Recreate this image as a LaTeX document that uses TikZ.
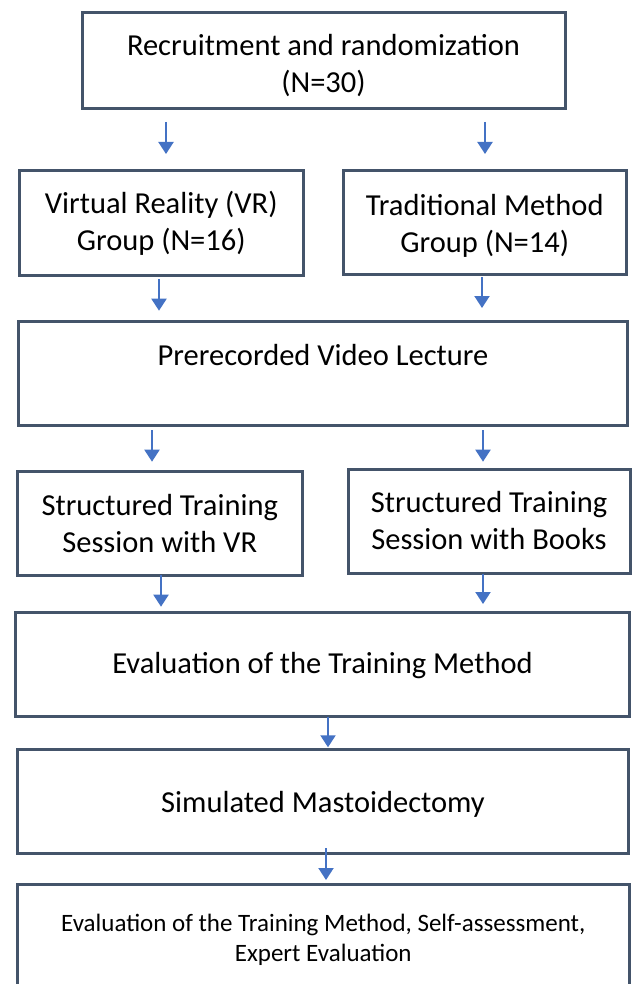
\documentclass[tikz,border=0pt]{standalone}
\usepackage{fontspec}
\setmainfont{Carlito}
\usetikzlibrary{arrows.meta}
\definecolor{boxline}{HTML}{44546A}
\definecolor{arrowblue}{HTML}{4472C4}
\begin{document}
\begin{tikzpicture}[x=1pt,y=-1pt,
  box/.style={draw=boxline, line width=3pt, fill=white, outer sep=0pt,
    inner sep=0pt},
  txt/.style={inner sep=0pt, align=center, font=\fontsize{30.5}{37}\selectfont},
  smalltxt/.style={txt, font=\fontsize{25}{30}\selectfont},
  arr/.style={draw=arrowblue, line width=2pt,
    -{Triangle[width=15pt,length=12pt]}}]
  % page frame
  \useasboundingbox (0,0) rectangle (632,984);
  \clip (0,0) rectangle (632,984);
  \fill[white] (0,0) rectangle (632,984);

  % flow boxes
  \node[box, minimum width=483pt, minimum height=96pt] (recruit) at (323.5,61) {};
  \node[box, minimum width=283.5pt, minimum height=104pt] (vr) at (161.25,223) {};
  \node[box, minimum width=283.5pt, minimum height=103.5pt] (trad) at (484.75,222.75) {};
  \node[box, minimum width=609pt, minimum height=104.5pt] (video) at (323,373.25) {};
  \node[box, minimum width=284.5pt, minimum height=104pt] (svr) at (159.75,523) {};
  \node[box, minimum width=282pt, minimum height=104.5pt] (books) at (489,521.25) {};
  \node[box, minimum width=614pt, minimum height=104pt] (evalm) at (322.5,664) {};
  \node[box, minimum width=611pt, minimum height=104pt] (mast) at (323,801) {};
  \node[box, minimum width=611.5pt, minimum height=106pt] (final) at (323.25,937) {};

  % box texts
  \node[txt] (recruit-text) at (323.5,65.5) {Recruitment and randomization\\(N=30)};
  \node[txt] (vr-text) at (161.25,223) {Virtual Reality (VR)\\Group (N=16)};
  \node[txt] (trad-text) at (484.75,226) {Traditional Method\\Group (N=14)};
  \node[txt] (video-text) at (323,355) {Prerecorded Video Lecture};
  \node[txt] (svr-text) at (159.75,524) {Structured Training\\Session with VR};
  \node[txt] (books-text) at (489,521) {Structured Training\\Session with Books};
  \node[txt] (evalm-text) at (322.5,666) {Evaluation of the Training Method};
  \node[txt] (mast-text) at (323,804.5) {Simulated Mastoidectomy};
  \node[smalltxt] (final-text) at (323.25,940)
    {Evaluation of the Training Method, Self-assessment,\\Expert Evaluation};

  % arrow columns
  \coordinate (a1l) at (166,0);
  \coordinate (a1r) at (485,0);
  \coordinate (a2l) at (159,0);
  \coordinate (a2r) at (482,0);
  \coordinate (a3l) at (152,0);
  \coordinate (a3r) at (483,0);
  \coordinate (a4l) at (161,0);
  \coordinate (a4r) at (483,0);
  \coordinate (a5) at (328,0);
  \coordinate (a6) at (326,0);

  % connectors
  \draw[arr, shorten <=13pt, shorten >=17pt] (recruit.south -| a1l) -- (vr.north -| a1l);
  \draw[arr, shorten <=13pt, shorten >=17pt] (recruit.south -| a1r) -- (trad.north -| a1r);
  \draw[arr, shorten <=4pt, shorten >=10.3pt] (vr.south -| a2l) -- (video.north -| a2l);
  \draw[arr, shorten <=2.5pt, shorten >=13pt] (trad.south -| a2r) -- (video.north -| a2r);
  \draw[arr, shorten <=4.5pt, shorten >=9.3pt] (video.south -| a3l) -- (svr.north -| a3l);
  \draw[arr, shorten <=4.5pt, shorten >=7.3pt] (video.south -| a3r) -- (books.north -| a3r);
  \draw[arr, shorten >=5.3pt] (svr.south -| a4l) -- (evalm.north -| a4l);
  \draw[arr, shorten >=8pt] (books.south -| a4r) -- (evalm.north -| a4r);
  \draw[arr, shorten <=0.7pt, shorten >=1.7pt] (evalm.south -| a5) -- (mast.north -| a5);
  \draw[arr, shorten <=-4.7pt, shorten >=4pt] (mast.south -| a6) -- (final.north -| a6);
\end{tikzpicture}
\end{document}
